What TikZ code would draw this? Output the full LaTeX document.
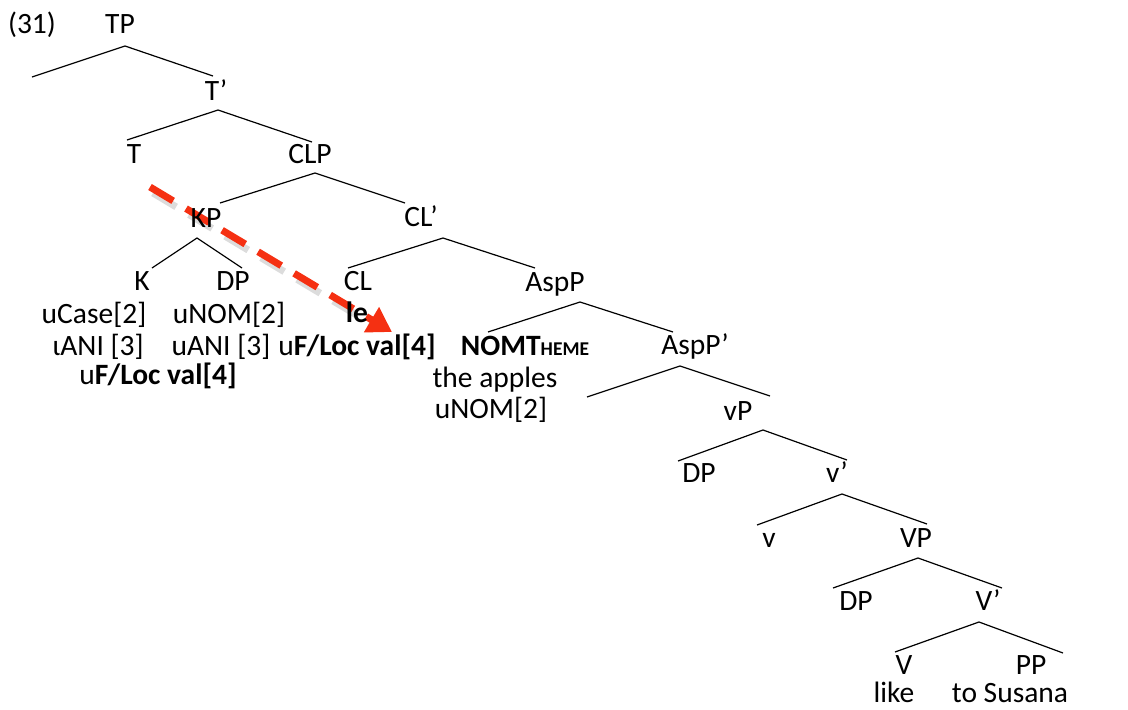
\documentclass[tikz,border=0pt]{standalone}
\usepackage{fontspec}
\setmainfont{Carlito}
\usetikzlibrary{arrows.meta,calc}
\definecolor{arrowred}{RGB}{245,48,18}
\newcommand{\smc}[1]{{\fontsize{19.5}{20}\selectfont #1}}
\begin{document}
\begin{tikzpicture}[x=1pt,y=-1pt,
  lbl/.style={anchor=base,inner sep=0pt,font=\fontsize{29.5}{31}\selectfont},
  branch/.style={line width=1.2pt,black},
  movearrow/.style={line width=7pt,arrowred,dash pattern=on 27pt off 15pt,
     -{Triangle[length=24pt,width=28pt]}},
  moveshadow/.style={line width=7pt,black!45,opacity=0.3,dash pattern=on 27pt off 15pt}]
\useasboundingbox (0,0) rectangle (1128,710);

% ---- movement arrow (under the text) ----
\coordinate (arrS) at (150,187);
\coordinate (arrE) at (392,332);
\coordinate (shS) at ($(arrS)+(3,6)$);
\coordinate (shE) at ($(arrS)!0.9!(arrE)+(3,6)$);
\draw[moveshadow] (shS) -- (shE);
\draw[movearrow] (arrS) -- (arrE);

% ---- labels ----
\node[lbl] (ex) at (32,33) {(31)};
\node[lbl] (TP) at (120,33) {TP};
\node[lbl] (Tbar) at (216,100) {T’};
\node[lbl] (T) at (134,163) {T};
\node[lbl] (CLP) at (310,163) {CLP};
\node[lbl] (KP) at (206,227) {KP};
\node[lbl] (CLbar) at (421,226) {CL’};
\node[lbl] (K) at (142,290) {K};
\node[lbl] (DPk) at (233,290) {DP};
\node[lbl] (CL) at (358,290) {CL};
\node[lbl] (AspP) at (555,291) {AspP};
\node[lbl] (kcase) at (94,323) {uCase[2]};
\node[lbl] (kani) at (98,355) {ιANI [3]};
\node[lbl] (kloc) at (158,384) {u\textbf{F/Loc val[4]}};
\node[lbl] (dnom) at (229,323) {uNOM[2]};
\node[lbl] (dani) at (221,355) {uANI [3]};
\node[lbl] (le) at (357,322) {\textbf{le}};
\node[lbl] (clloc) at (357,355) {u\textbf{F/Loc val[4]}};
\node[lbl] (nom) at (525,355) {\textbf{NOMT\smc{HEME}}};
\node[lbl] (apples) at (495,387) {the apples};
\node[lbl] (anom) at (491,418) {uNOM[2]};
\node[lbl] (AspPbar) at (695,354) {AspP’};
\node[lbl] (vP) at (738,420) {vP};
\node[lbl] (DPv) at (699,482) {DP};
\node[lbl] (vbar) at (837,482) {v’};
\node[lbl] (v) at (769,547) {v};
\node[lbl] (VP) at (916,547) {VP};
\node[lbl] (DPV) at (856,610) {DP};
\node[lbl] (Vbar) at (988,610) {V’};
\node[lbl] (V) at (904,674) {V};
\node[lbl] (PP) at (1031,674) {PP};
\node[lbl,text depth=0pt] (like) at (894,702) {like};
\node[lbl,text depth=0pt] (susana) at (1010,702) {to Susana};

% ---- branch points ----
\coordinate (tpA) at (125,46);  \coordinate (tpL) at (32,77);   \coordinate (tpR) at (213,76);
\coordinate (tbA) at (218,110); \coordinate (tbL) at (127,140); \coordinate (tbR) at (312,142);
\coordinate (clpA) at (315,173);\coordinate (clpL) at (220,203);\coordinate (clpR) at (405,203);
\coordinate (kpA) at (197,238); \coordinate (kpL) at (152,268); \coordinate (kpR) at (242,268);
\coordinate (clbA) at (443,238);\coordinate (clbL) at (348,268);\coordinate (clbR) at (535,268);
\coordinate (aspA) at (580,302);\coordinate (aspL) at (488,332);\coordinate (aspR) at (673,332);
\coordinate (aspbA) at (680,366);\coordinate (aspbL) at (587,397);\coordinate (aspbR) at (770,396);
\coordinate (vpA) at (763,430); \coordinate (vpL) at (678,461); \coordinate (vpR) at (847,460);
\coordinate (vbA) at (842,494); \coordinate (vbL) at (757,525); \coordinate (vbR) at (927,524);
\coordinate (VPA) at (918,558); \coordinate (VPL) at (833,588); \coordinate (VPR) at (1002,588);
\coordinate (VbA) at (979,622); \coordinate (VbL) at (895,652); \coordinate (VbR) at (1063,653);

\foreach \n in {tp,tb,clp,kp,clb,asp,aspb,vp,vb,VP,Vb}{
  \draw[branch] (\n L) -- (\n A) -- (\n R);
}
\end{tikzpicture}
\end{document}
